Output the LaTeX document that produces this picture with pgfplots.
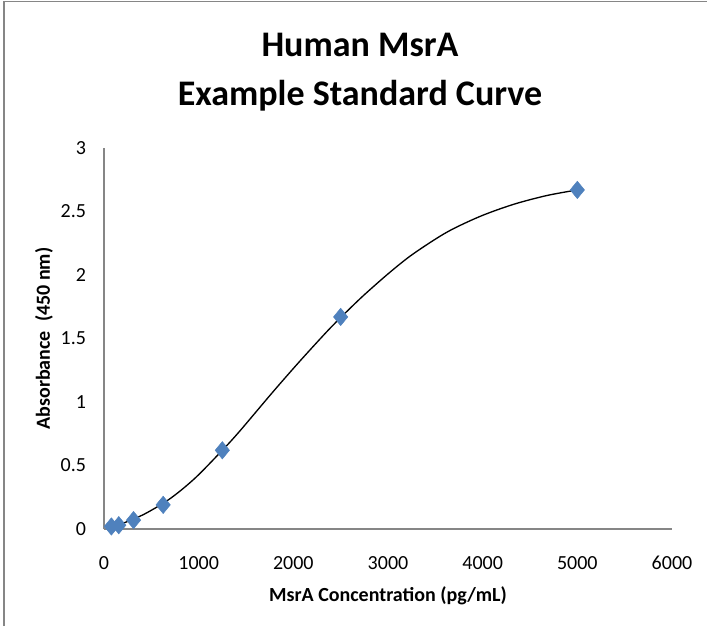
\documentclass[border=0pt]{standalone}
\usepackage{fontspec}
\setmainfont{Carlito}
\usepackage{pgfplots}
\pgfplotsset{compat=1.18}
\definecolor{axgray}{RGB}{134,134,134}
\definecolor{mkblue}{RGB}{79,129,189}
\begin{document}
\begin{tikzpicture}
\useasboundingbox (-78pt,-72.75pt) rectangle (452.25pt,396.75pt);
\draw[axgray, line width=1pt] (-75pt,-72.75pt) -- (-75pt,395.6pt) -- (452.25pt,395.6pt);
\begin{axis}[
  scale only axis,
  width=426pt, height=285.75pt,
  xmin=0, xmax=6000, ymin=0, ymax=3,
  axis x line*=bottom, axis y line*=left,
  axis line style={axgray, line width=1pt, -},
  major tick length=0pt,
  xtick={0,1000,2000,3000,4000,5000,6000},
  ytick={0,0.5,1,1.5,2,2.5,3},
  scaled x ticks=false,
  /pgf/number format/assume math mode=true,
  /pgf/number format/1000 sep={},
  xticklabel style={font=\fontsize{15}{18}\selectfont, anchor=center, yshift=-25.5pt},
  yticklabel style={font=\fontsize{15}{18}\selectfont, anchor=east, xshift=-10pt},
  xlabel={MsrA Concentration (pg/mL)},
  ylabel={Absorbance~~(450 nm)},
  xlabel style={font=\fontsize{15}{18}\selectfont\bfseries, at={(axis description cs:0.5,-0.176)}, anchor=center},
  ylabel style={font=\fontsize{15}{18}\selectfont\bfseries, at={(axis description cs:-0.1056,0.5)}, anchor=center},
  clip=false,
]
\addplot[only marks, mark=diamond*, mark size=6.5pt, mkblue, mark options={xscale=1.1}] coordinates {
  (78,0.02) (156,0.03) (312,0.07) (625,0.19) (1250,0.62) (2500,1.67) (5000,2.67)
};
\addplot[black, line width=1pt, smooth, tension=0.5] coordinates {
  (78,0.02) (200,0.045) (433,0.12) (700,0.24) (961,0.40) (1250,0.62) (1433,0.77)
  (1785,1.08) (2067,1.32) (2349,1.55) (2500,1.665) (2736,1.835) (3018,2.02)
  (3264,2.165) (3617,2.335) (3968,2.46) (4320,2.555) (4673,2.625) (5000,2.67)
};
\end{axis}
\node[font=\fontsize{27}{36.75}\selectfont\bfseries, align=center] at (192pt,342.4pt) {Human MsrA\\Example Standard Curve};
\end{tikzpicture}
\end{document}
